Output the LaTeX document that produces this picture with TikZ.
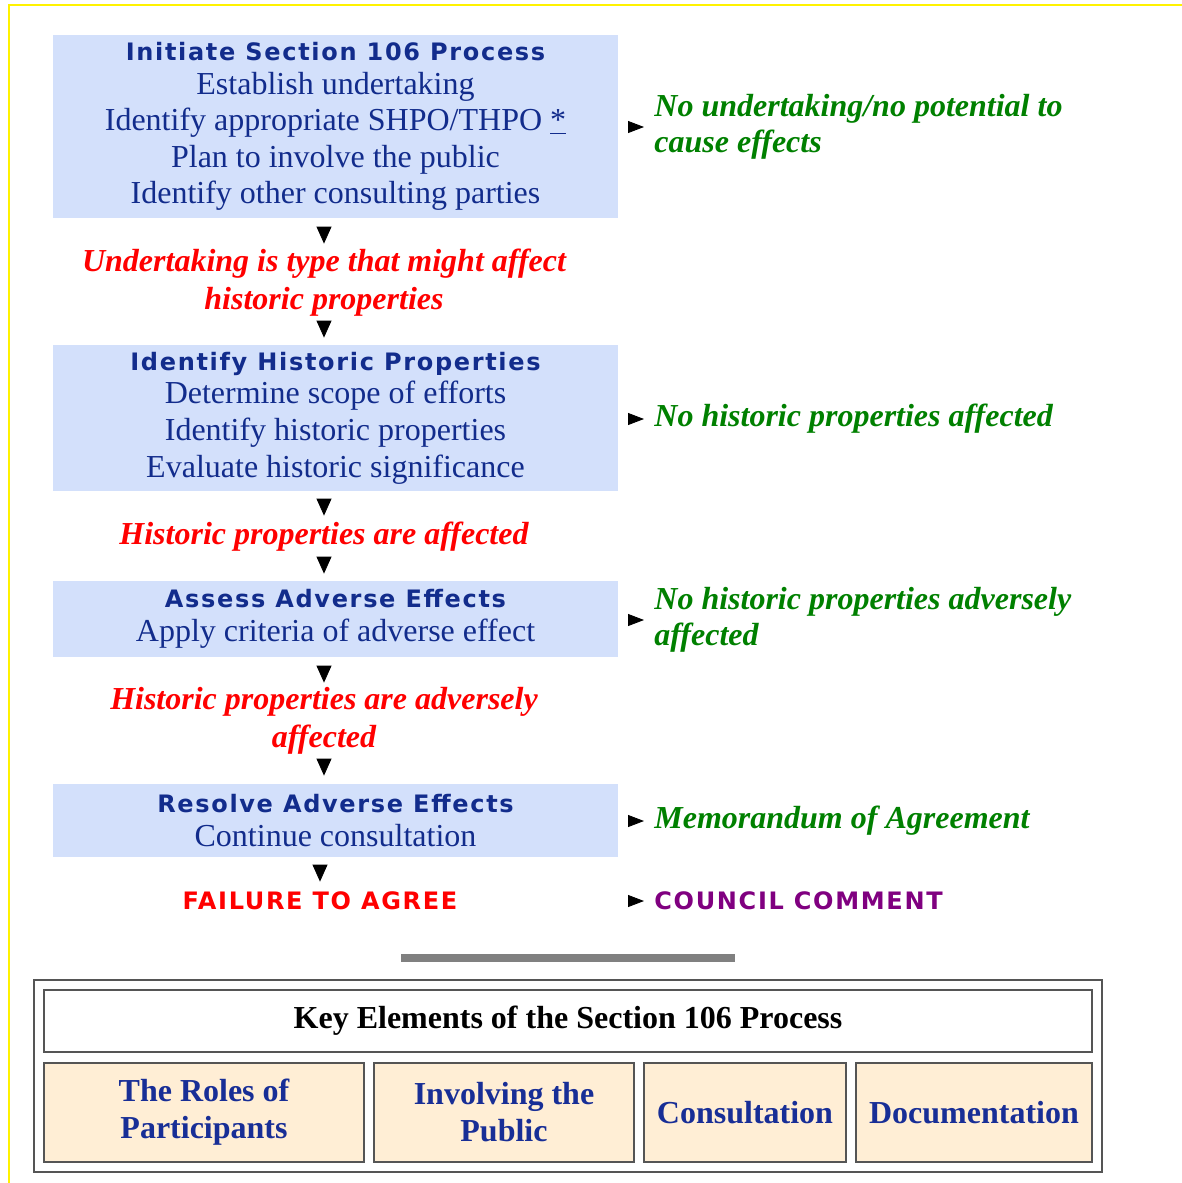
\documentclass[tikz,border=0pt]{standalone}
\usepackage{fontspec}
\setmainfont{Liberation Serif}
\newfontfamily\vsans{DejaVu Sans}[LetterSpace=7]
\usetikzlibrary{arrows.meta,positioning}

\definecolor{stepfill}{RGB}{211,224,251}
\definecolor{steptext}{RGB}{18,44,140}
\definecolor{keyfill}{RGB}{255,238,213}
\definecolor{keytext}{RGB}{24,46,150}
\definecolor{okgreen}{RGB}{0,128,0}
\definecolor{councilpurple}{RGB}{128,0,128}
\definecolor{frameline}{RGB}{85,85,85}
\newcommand{\steptitle}[1]{{\vsans\bfseries\fontsize{12}{14}\selectfont #1}}

\begin{document}
\begin{tikzpicture}[x=0.5pt,y=-0.5pt]
	\tikzstyle{process} = [rectangle, minimum width=282.5pt, inner sep=0pt, 
	align=center, fill=stepfill, text=steptext, font=\fontsize{16}{18.3}\selectfont]
	\tikzstyle{finding} = [rectangle, inner sep=0pt, align=center, text=red, 
	font=\fontsize{16}{19}\selectfont\bfseries\itshape]
	\tikzstyle{outcome} = [rectangle, anchor=west, inner sep=0pt, align=left, 
	text=okgreen, font=\fontsize{16}{18}\selectfont\bfseries\itshape]
	\tikzstyle{keycell} = [rectangle, draw=frameline, line width=1pt, fill=keyfill, 
	text=keytext, align=center, minimum height=49.5pt, font=\fontsize{16}{18.5}\selectfont\bfseries]
	\tikzstyle{down} = [-{Triangle[length=8.5pt,width=7.5pt]}]
	\tikzstyle{side} = [-{Triangle[length=8pt,width=6pt]}, shorten <=5pt, shorten >=5pt]
	\useasboundingbox (0,0) rectangle (1182,1183);
	\draw [yellow, line width=1pt] (8.5,1183) -- (8.5,4.5) -- (1182,4.5);
	% steps of the process
	\node (initiate) [process, minimum height=91.5pt] at (335.5,126.5) 
	{\steptitle{Initiate Section 106 Process}\\[-1.5pt] Establish undertaking\\ 
	Identify appropriate SHPO/THPO \underline{*}\\ Plan to involve the public\\ 
	Identify other consulting parties};
	\node (identify) [process, minimum height=73pt] at (335.5,418) 
	{\steptitle{Identify Historic Properties}\\[-1.5pt] Determine scope of efforts\\ 
	Identify historic properties\\ Evaluate historic significance};
	\node (assess) [process, minimum height=38pt] at (335.5,619) 
	{\steptitle{Assess Adverse Effects}\\[-1.5pt] Apply criteria of adverse effect};
	\node (resolve) [process, minimum height=36.5pt] at (335.5,820.5) 
	{\steptitle{Resolve Adverse Effects}\\[-1.5pt] Continue consultation};
	% findings between the steps
	\node (mightAffect) [finding, minimum height=38.5pt] at (324,282.5) 
	{Undertaking is type that might affect\\ historic properties};
	\node (affected) [finding, minimum height=20.5pt] at (324,536.5) 
	{Historic properties are affected};
	\node (adverse) [finding, minimum height=38pt] at (324,721) 
	{Historic properties are adversely\\ affected};
	\node (failure) [finding, minimum height=19pt, font=\vsans\bfseries\fontsize{12}{14}\selectfont] 
	at (320,901) {FAILURE TO AGREE};
	% outcomes on the right
	\node (noUndertaking) [outcome] at (654,127) {No undertaking/no potential to\\ cause effects};
	\node (noProperties) [outcome] at (654,419) {No historic properties affected};
	\node (noAdverse) [outcome] at (654,620) {No historic properties adversely\\ affected};
	\node (agreement) [outcome] at (654,821) {Memorandum of Agreement};
	\node (council) [outcome, text=councilpurple, font=\vsans\bfseries\fontsize{12}{14}\selectfont] 
	at (654,901) {COUNCIL COMMENT};
	\draw [down, shorten <=4.5pt] (mightAffect.north |- initiate.south) -- (mightAffect.north);
	\draw [down, shorten >=3.5pt] (mightAffect.south) -- (mightAffect.south |- identify.north);
	\draw [down, shorten <=4pt] (affected.north |- identify.south) -- (affected.north);
	\draw [down, shorten >=3.5pt] (affected.south) -- (affected.south |- assess.north);
	\draw [down, shorten <=4.5pt] (adverse.north |- assess.south) -- (adverse.north);
	\draw [down, shorten >=4pt] (adverse.south) -- (adverse.south |- resolve.north);
	\draw [down, shorten <=4pt] (failure.north |- resolve.south) -- (failure.north);
	\draw [side] (initiate.east |- noUndertaking.west) -- (noUndertaking.west);
	\draw [side] (identify.east |- noProperties.west) -- (noProperties.west);
	\draw [side] (assess.east |- noAdverse.west) -- (noAdverse.west);
	\draw [side] (resolve.east |- agreement.west) -- (agreement.west);
	\draw [side] (resolve.east |- council.west) -- (council.west);
	% key elements table
	\fill [gray] (401,954) rectangle (735,962);
	\node (keyFrame) [rectangle, draw=frameline, line width=1pt, minimum width=534pt, 
	minimum height=96pt] at (568,1076) {};
	\node (keyHead) [rectangle, draw=frameline, line width=1pt, minimum width=524pt, 
	minimum height=31pt, font=\fontsize{16}{18.5}\selectfont\bfseries] at (568,1021) 
	{Key Elements of the Section 106 Process};
	\node (roles) [keycell, minimum width=160pt] at (204,1112.5) {The Roles of\\ Participants};
	\node (public) [keycell, minimum width=130pt] at (504,1112.5) {Involving the\\ Public};
	\node (consultation) [keycell, minimum width=101pt] at (745,1112.5) {Consultation};
	\node (documentation) [keycell, minimum width=118pt] at (974,1112.5) {Documentation};
\end{tikzpicture}
\end{document}
